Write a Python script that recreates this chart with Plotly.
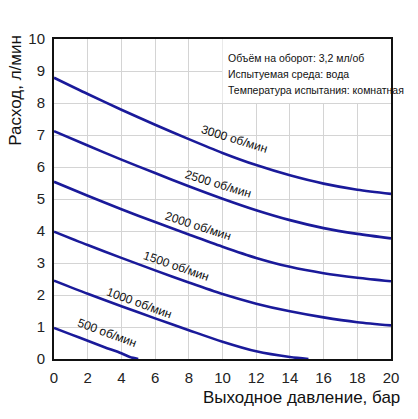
import plotly.graph_objects as go

# pressure (bar) and flow (l/min)
x_3000 = [0, 2, 4, 6, 8, 10, 12, 14, 16, 18, 20]
y_3000 = [8.79, 8.28, 7.79, 7.32, 6.87, 6.44, 6.06, 5.74, 5.48, 5.29, 5.16]
x_2500 = [0, 2, 4, 6, 8, 10, 12, 14, 16, 18, 20]
y_2500 = [7.12, 6.67, 6.23, 5.81, 5.40, 5.01, 4.65, 4.34, 4.09, 3.91, 3.77]
x_2000 = [0, 2, 4, 6, 8, 10, 12, 14, 16, 18, 20]
y_2000 = [5.54, 5.10, 4.68, 4.28, 3.89, 3.51, 3.16, 2.88, 2.68, 2.54, 2.43]
x_1500 = [0, 2, 4, 6, 8, 10, 12, 14, 16, 18, 20]
y_1500 = [3.98, 3.56, 3.16, 2.77, 2.39, 2.03, 1.73, 1.49, 1.30, 1.15, 1.05]
x_1000 = [0, 2, 4, 6, 8, 10, 12, 14, 15.1]
y_1000 = [2.45, 2.04, 1.65, 1.27, 0.90, 0.54, 0.24, 0.06, 0.0]
x_500 = [0, 1, 2, 3, 4, 4.5, 5.0]
y_500 = [0.97, 0.77, 0.57, 0.37, 0.18, 0.06, 0.0]

series = [
    ("3000 об/мин", x_3000, y_3000),
    ("2500 об/мин", x_2500, y_2500),
    ("2000 об/мин", x_2000, y_2000),
    ("1500 об/мин", x_1500, y_1500),
    ("1000 об/мин", x_1000, y_1000),
    ("500 об/мин", x_500, y_500),
]

# curve label positions (data coords)
label_x = [10.7, 9.75, 8.55, 7.25, 5.05, 3.17]
label_y = [6.86, 5.48, 4.17, 2.90, 1.75, 0.80]
label_angle = [17, 17, 18, 19, 20, 20]

info_lines = [
    "Объём на оборот: 3,2 мл/об",
    "Испытуемая среда: вода",
    "Температура испытания: комнатная",
]
info_y = [9.41, 8.91, 8.41]

x_ticks = [0, 2, 4, 6, 8, 10, 12, 14, 16, 18, 20]
y_ticks = [0, 1, 2, 3, 4, 5, 6, 7, 8, 9, 10]

FONT = "Arial, Liberation Sans, sans-serif"
LINE = "#1a1a9a"

fig = go.Figure()
for name, xs, ys in series:
    fig.add_trace(go.Scatter(x=xs, y=ys, mode="lines", name=name,
                             line=dict(color=LINE, width=2.6, shape="spline", smoothing=0.8),
                             showlegend=False, hoverinfo="skip"))

annotations = []
for (name, _, _), lx, ly, ang in zip(series, label_x, label_y, label_angle):
    annotations.append(dict(x=lx, y=ly, xref="x", yref="y", text=name, showarrow=False,
                            textangle=ang, font=dict(family=FONT, size=12, color="#111")))
for line, ly in zip(info_lines, info_y):
    annotations.append(dict(x=10.2, y=ly, xref="x", yref="y", text=line, showarrow=False,
                            xanchor="left", yanchor="middle",
                            font=dict(family=FONT, size=10.5, color="#111")))
annotations.append(dict(x=-0.114, y=0.84, xref="paper", yref="paper", text="Расход, л/мин",
                        showarrow=False, textangle=-90, xanchor="center", yanchor="middle",
                        font=dict(family=FONT, size=17, color="#111")))
annotations.append(dict(x=0.733, y=-0.119, xref="paper", yref="paper",
                        text="Выходное давление, бар", showarrow=False,
                        xanchor="center", yanchor="middle",
                        font=dict(family=FONT, size=17, color="#111")))

fig.update_layout(
    width=418, height=419,
    margin=dict(l=53.5, r=27, t=39, b=60),
    paper_bgcolor="white", plot_bgcolor="white",
    annotations=annotations,
    shapes=[dict(type="rect", xref="x", yref="y", x0=10, x1=20, y0=8, y1=10,
                 fillcolor="white", line=dict(width=0), layer="between")],
    xaxis=dict(range=[0, 20], tickvals=x_ticks, ticktext=[str(v) for v in x_ticks],
               showgrid=True, gridcolor="#d4d4d4", gridwidth=1,
               showline=True, linecolor="#111", linewidth=2, mirror=True,
               ticks="", zeroline=False, ticklabelstandoff=4,
               tickfont=dict(family=FONT, size=15, color="#222")),
    yaxis=dict(range=[0, 10], tickvals=y_ticks, ticktext=[str(v) for v in y_ticks],
               showgrid=True, gridcolor="#d4d4d4", gridwidth=1,
               showline=True, linecolor="#111", linewidth=2, mirror=True,
               ticks="", zeroline=False, ticklabelstandoff=4,
               tickfont=dict(family=FONT, size=15, color="#222")),
)

fig.write_html("out.html")
